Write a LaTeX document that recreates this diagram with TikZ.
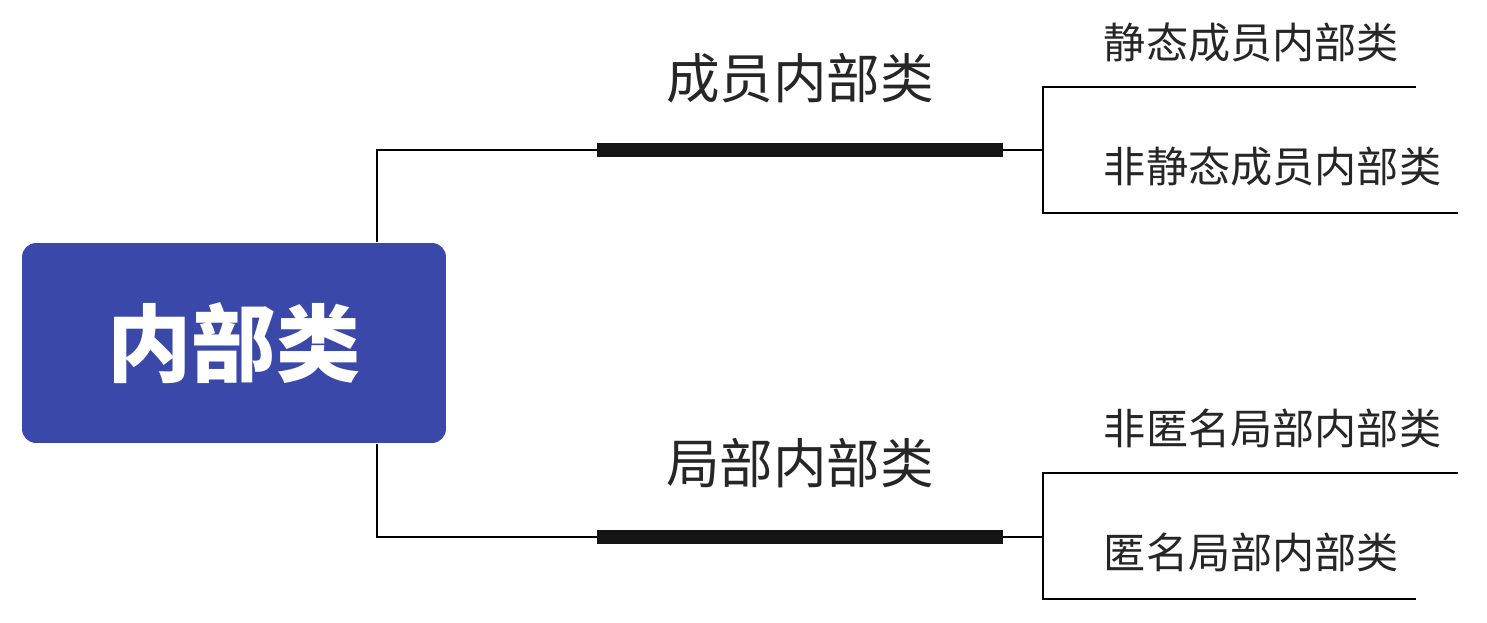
\documentclass[tikz,border=0pt]{standalone}
\usepackage{fontspec}
\setmainfont{Noto Sans CJK SC}
\definecolor{rootblue}{HTML}{3A48A9}
\definecolor{barblack}{HTML}{141414}
\begin{document}
\begin{tikzpicture}[x=0.02cm,y=-0.02cm,line width=1.1pt]
    \tikzstyle{root}=[rectangle,rounded corners=0.28cm,fill=rootblue,text=white,font=\fontsize{48}{48}\selectfont\bfseries,minimum width=8.48cm,minimum height=4cm,inner sep=0pt]
    \tikzstyle{branch}=[inner sep=0pt,text=black!85,font=\fontsize{30.5}{30.5}\selectfont]
    \tikzstyle{leaf}=[inner sep=0pt,anchor=west,text=black!85,font=\fontsize{24}{24}\selectfont]
    \tikzstyle{bar}=[line width=8pt,color=barblack]
    \useasboundingbox (0,0) rectangle (1487,622);
    \node[root] (R) at (234,343) {内部类};
    % upper branch
    \node[branch] (M1) at (800,78) {成员内部类};
    \node[leaf] (L11) at (1103,43) {静态成员内部类};
    \node[leaf] (L12) at (1103,167) {非静态成员内部类};
    \coordinate (S1) at (377,150);
    \coordinate (A1) at (597,150);
    \coordinate (B1) at (1003,150);
    \coordinate (J1) at (1043,150);
    \coordinate (E11) at (1416,87);
    \coordinate (E12) at (1458,213);
    \draw (R.north -| S1) -- (S1) -- (A1);
    \draw[bar] (A1) -- (B1);
    \draw (B1) -- (J1);
    \draw (E11) -| (J1) |- (E12);
    % lower branch
    \node[branch] (M2) at (800,463) {局部内部类};
    \node[leaf] (L21) at (1103,428) {非匿名局部内部类};
    \node[leaf] (L22) at (1103,552) {匿名局部内部类};
    \coordinate (S2) at (377,537);
    \coordinate (A2) at (597,537);
    \coordinate (B2) at (1003,537);
    \coordinate (J2) at (1043,537);
    \coordinate (E21) at (1458,473);
    \coordinate (E22) at (1416,599);
    \draw (R.south -| S2) -- (S2) -- (A2);
    \draw[bar] (A2) -- (B2);
    \draw (B2) -- (J2);
    \draw (E21) -| (J2) |- (E22);
\end{tikzpicture}
\end{document}
